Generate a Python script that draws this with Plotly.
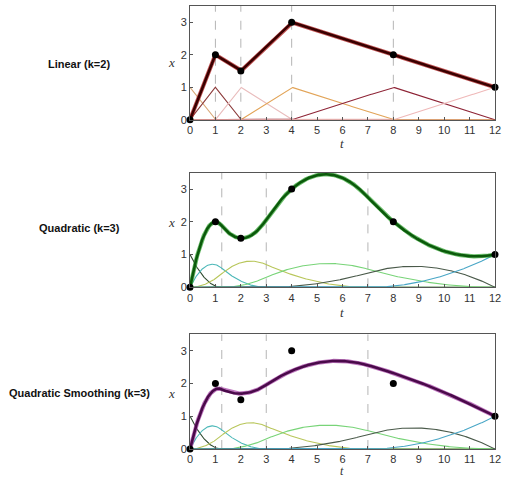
import numpy as np
import plotly.graph_objects as go
from plotly.subplots import make_subplots

# ---------------- data ----------------
t_data = [0, 1, 2, 4, 8, 12]
x_data = [0, 2, 1.5, 3, 2, 1]

titles = ["Linear (k=2)", "Quadratic (k=3)", "Quadratic Smoothing (k=3)"]

linear_knots = [0, 0, 1, 2, 4, 8, 12, 12]
linear_order = 2
quad_knots = [0, 0, 0, 1.25, 3, 7, 12, 12, 12]
quad_order = 3
# smoothing coefficients
smooth_coefs = [0, 2.05, 1.5, 3.0, 2.0, 1.0]

x_ticks = list(range(0, 13))
y_ticks = [0, 1, 2, 3]

linear_dash_lines = [1, 2, 4, 8]
quad_dash_lines = [1.25, 3, 7]

linear_basis_colors = ["#d9a878", "#8c3b3b", "#e9bcbc", "#e2a458", "#8e2436", "#efb8b8"]
quad_basis_colors = ["#2f4a2f", "#4cb8b8", "#b8c65a", "#78d478", "#4a5a4a", "#48a6c6"]

main_colors = [("#b02020", "#3a0000"), ("#3aa83a", "#0b5a0b"), ("#a848a8", "#4a0a4a")]


def bspline_basis(knots, order, tt):
    knots = np.asarray(knots, float)
    tt = np.asarray(tt, float)
    n_int = len(knots) - 1
    B = np.zeros((len(tt), n_int))
    last = max(i for i in range(n_int) if knots[i] < knots[i + 1])
    for i in range(n_int):
        if knots[i] < knots[i + 1]:
            if i == last:
                B[:, i] = (tt >= knots[i]) & (tt <= knots[i + 1])
            else:
                B[:, i] = (tt >= knots[i]) & (tt < knots[i + 1])
    for k in range(2, order + 1):
        Bn = np.zeros((len(tt), len(knots) - k))
        for i in range(len(knots) - k):
            d1 = knots[i + k - 1] - knots[i]
            d2 = knots[i + k] - knots[i + 1]
            a = (tt - knots[i]) / d1 * B[:, i] if d1 > 0 else 0
            b = (knots[i + k] - tt) / d2 * B[:, i + 1] if d2 > 0 else 0
            Bn[:, i] = a + b
        B = Bn
    return B


tt = np.linspace(0, 12, 721)
B_lin = bspline_basis(linear_knots, linear_order, tt)
B_quad = bspline_basis(quad_knots, quad_order, tt)

# interpolating quadratic coefficients
Bq_data = bspline_basis(quad_knots, quad_order, t_data)
quad_coefs = np.linalg.solve(Bq_data, np.asarray(x_data, float))

panels = [
    (B_lin, linear_basis_colors, np.asarray(x_data, float), linear_dash_lines),
    (B_quad, quad_basis_colors, quad_coefs, quad_dash_lines),
    (B_quad, quad_basis_colors, np.asarray(smooth_coefs, float), quad_dash_lines),
]

fig = make_subplots(rows=3, cols=1)

for r, (B, cols, coefs, dlines) in enumerate(panels, start=1):
    for j in range(B.shape[1]):
        fig.add_trace(go.Scatter(x=tt, y=B[:, j], mode="lines",
                                 line=dict(color=cols[j], width=1.1),
                                 showlegend=False, hoverinfo="skip"), row=r, col=1)
    curve = B @ coefs
    halo, core = main_colors[r - 1]
    fig.add_trace(go.Scatter(x=tt, y=curve, mode="lines",
                             line=dict(color=halo, width=4.2),
                             opacity=0.75, showlegend=False), row=r, col=1)
    fig.add_trace(go.Scatter(x=tt, y=curve, mode="lines",
                             line=dict(color=core, width=2.6),
                             showlegend=False), row=r, col=1)
    fig.add_trace(go.Scatter(x=t_data, y=x_data, mode="markers",
                             marker=dict(color="black", size=7),
                             cliponaxis=False, showlegend=False), row=r, col=1)
    for d in dlines:
        fig.add_shape(type="line", x0=d, x1=d, y0=0, y1=3.5, xref=f"x{'' if r == 1 else r}",
                      yref=f"y{'' if r == 1 else r}",
                      line=dict(color="#b5b5b5", width=1, dash="dash"), layer="below")

# domains (pixel based): plot area x 190..501, y panels
BOT = 449.0
H = BOT - 5.0
def py(p):
    return (BOT - p) / H

domains = [(py(119), py(5)), (py(287), py(172)), (py(449), py(334))]

axis_common = dict(showline=True, mirror=True, linecolor="#555555", linewidth=1,
                   ticks="inside", ticklen=3, tickcolor="#555555",
                   showgrid=False, zeroline=False,
                   tickfont=dict(family="Liberation Sans, Arial", size=11, color="#333333"))

for r in range(1, 4):
    xa = "xaxis" if r == 1 else f"xaxis{r}"
    ya = "yaxis" if r == 1 else f"yaxis{r}"
    fig.layout[xa].update(domain=[0, 1], range=[0, 12], tickvals=x_ticks,
                          ticktext=[str(v) for v in x_ticks], ticklabeloverflow="allow",
                          **axis_common)
    fig.layout[ya].update(domain=list(domains[r - 1]), range=[0, 3.5], tickvals=y_ticks, **axis_common)

W = 311.0
def px(p):
    return (p - 190) / W

annots = []
title_y = [63, 228, 393]
xlab_y = [62, 222, 393]
for i in range(3):
    annots.append(dict(text=f"<b>{titles[i]}</b>", x=px(77), y=py(title_y[i]), xref="paper", yref="paper",
                       xanchor="center", yanchor="middle", showarrow=False,
                       font=dict(family="Liberation Sans, Arial", size=11, color="#111111")))
    annots.append(dict(text="<i>x</i>", x=px(171), y=py(xlab_y[i]), xref="paper", yref="paper",
                       xanchor="center", yanchor="middle", showarrow=False,
                       font=dict(family="Liberation Serif, Times New Roman", size=13, color="#333333")))
# t labels
annots.append(dict(text="<i>t</i>", x=px(345), y=py(143), xref="paper", yref="paper",
                   xanchor="center", yanchor="middle", showarrow=False,
                   font=dict(family="Liberation Serif, Times New Roman", size=13, color="#333333")))
annots.append(dict(text="<i>t</i>", x=px(345), y=py(312), xref="paper", yref="paper",
                   xanchor="center", yanchor="middle", showarrow=False,
                   font=dict(family="Liberation Serif, Times New Roman", size=13, color="#333333")))
annots.append(dict(text="<i>t</i>", x=px(345), y=py(480), xref="paper", yref="paper",
                   xanchor="center", yanchor="bottom", showarrow=False,
                   font=dict(family="Liberation Serif, Times New Roman", size=12, color="#333333")))

fig.update_layout(width=506, height=481, margin=dict(l=190, r=5, t=5, b=481 - BOT),
                  plot_bgcolor="white", paper_bgcolor="white", annotations=annots,
                  showlegend=False)

fig.write_html("out.html", config={"displayModeBar": False},
               post_script="document.body.style.margin='0';document.body.style.overflow='hidden';")
